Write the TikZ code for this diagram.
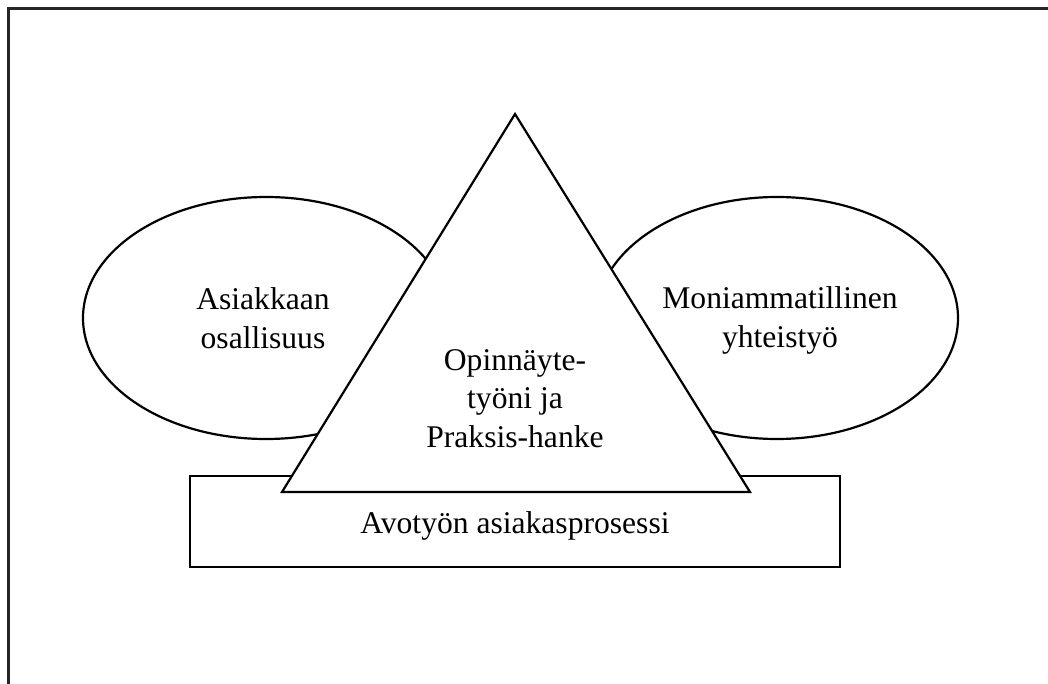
\documentclass[tikz,border=0pt]{standalone}
\usepackage{fontspec}
\setmainfont{Liberation Serif}
\begin{document}
\begin{tikzpicture}[x=1pt,y=-1pt,
  shp/.style={draw=black,line width=2.2pt,fill=white},
  lbl/.style={align=center,inner sep=0pt,anchor=base,font=\fontsize{31.6}{38.3}\selectfont}]
\useasboundingbox (0,0) rectangle (1048,684);
% outer frame (only top and left edge are visible)
\draw[line width=2.2pt,black!85] (8.5,690) -- (8.5,8.5) -- (1055,8.5);
% ellipses
\draw[shp] (266,318) ellipse [x radius=183,y radius=121];
\draw[shp] (777,318) ellipse [x radius=181,y radius=121];
% rectangle
\draw[shp] (190,476) rectangle (840,567);
% triangle
\coordinate (apex) at (515,114);
\coordinate (bl) at (282,492);
\coordinate (br) at (750,492);
\draw[shp,line join=miter] (apex) -- (bl) -- (br) -- cycle;
% labels (anchor=base is the baseline of the last line)
\node[lbl] (asi) at (263,348) {Asiakkaan\\osallisuus};
\node[lbl] (mon) at (780,347) {Moniammatillinen\\yhteistyö};
\node[lbl] (opi) at (515,447) {Opinnäyte-\\työni ja\\Praksis-hanke};
\node[lbl] (avo) at (515,533) {Avotyön asiakasprosessi};
\end{tikzpicture}
\end{document}
